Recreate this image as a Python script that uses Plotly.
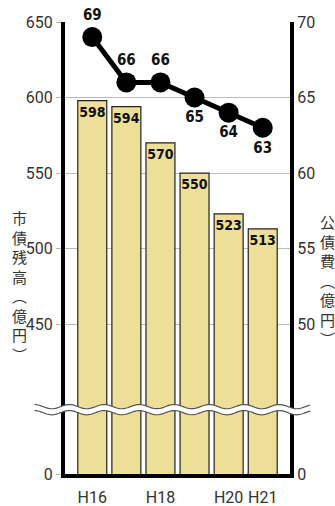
import numpy as np
import plotly.graph_objects as go

# ---- data ----
categories = ["H16", "H17", "H18", "H19", "H20", "H21"]
x_tick_labels = ["H16", "", "H18", "", "H20", "H21"]
debt_balance = [598, 594, 570, 550, 523, 513]      # 市債残高（億円）
bond_cost = [69, 66, 66, 65, 64, 63]                # 公債費（億円）
left_ticks = [0, 450, 500, 550, 600, 650]
right_ticks = [0, 50, 55, 60, 65, 70]
left_title = "市債残高︵億円︶"
right_title = "公債費︵億円︶"

# broken-axis: value shown as "0" sits at the bottom of the axis
LEFT_BOTTOM = 350.8
RIGHT_BOTTOM = 40.08
LEFT_TOP = 650
RIGHT_TOP = 70
BREAK_Y = 393.4

def left_pos(v):
    return LEFT_BOTTOM if v == 0 else v

def right_pos(v):
    return RIGHT_BOTTOM if v == 0 else v

TICK_FONT = "Liberation Sans Narrow, Roboto, Arial Narrow, sans-serif"
LABEL_FONT = "Liberation Sans Narrow, DejaVu Sans Condensed, sans-serif"
CJK_FONT = "Noto Sans CJK JP, Noto Sans CJK SC, sans-serif"

fig = go.Figure()

fig.add_trace(go.Bar(
    x=categories, y=debt_balance,
    marker=dict(color="#EEDF98", line=dict(color="#222222", width=1.2)),
    width=0.85,
    text=[str(v) for v in debt_balance],
    textposition="inside", insidetextanchor="end",
    constraintext="none", textangle=0,
    textfont=dict(family=LABEL_FONT, size=14, color="#111111", weight="bold"),
    cliponaxis=True,
    showlegend=False,
))

fig.add_trace(go.Scatter(
    x=categories, y=bond_cost, yaxis="y2",
    mode="lines+markers+text",
    line=dict(color="#000000", width=5),
    marker=dict(color="#000000", size=20),
    text=[str(v) for v in bond_cost],
    textposition=["top center", "top center", "top center",
                  "bottom center", "bottom center", "bottom center"],
    textfont=dict(family=LABEL_FONT, size=15, color="#111111", weight="bold"),
    cliponaxis=False,
    showlegend=False,
))

# wavy axis-break band
xs = np.linspace(-0.135, 1.09, 160)
period = 35 / 225.0
amp = 1.4
half = 2.0
top = [BREAK_Y + half + amp * np.sin(2 * np.pi * (x + 0.02) / period) for x in xs]
bot = [BREAK_Y - half + amp * np.sin(2 * np.pi * (x + 0.02) / period) for x in xs]
fill_path = "M " + " L ".join(f"{x:.4f},{y:.3f}" for x, y in zip(xs, top))
fill_path += " L " + " L ".join(f"{x:.4f},{y:.3f}" for x, y in zip(xs[::-1], bot[::-1])) + " Z"
top_path = "M " + " L ".join(f"{x:.4f},{y:.3f}" for x, y in zip(xs, top))
bot_path = "M " + " L ".join(f"{x:.4f},{y:.3f}" for x, y in zip(xs, bot))
fig.add_shape(type="path", path=fill_path, xref="paper", yref="y",
              fillcolor="white", line=dict(width=0), layer="above")
fig.add_shape(type="path", path=top_path, xref="paper", yref="y",
              line=dict(color="#555555", width=1.2), layer="above")
fig.add_shape(type="path", path=bot_path, xref="paper", yref="y",
              line=dict(color="#555555", width=1.2), layer="above")

# vertical axis titles
fig.add_annotation(text="<br>".join(left_title), xref="paper", yref="paper",
                   x=-0.204, y=0.415, showarrow=False, xanchor="center", yanchor="middle",
                   font=dict(family=CJK_FONT, size=15, color="#333333"))
fig.add_annotation(text="<br>".join(right_title), xref="paper", yref="paper",
                   x=1.166, y=0.429, showarrow=False, xanchor="center", yanchor="middle",
                   font=dict(family=CJK_FONT, size=15, color="#333333"))

fig.update_layout(
    width=335, height=506,
    margin=dict(l=65, r=45, t=22, b=32, autoexpand=False),
    paper_bgcolor="white", plot_bgcolor="white",
    bargap=0.15,
    xaxis=dict(
        type="category", range=[-0.8, 5.8],
        tickvals=categories, ticktext=x_tick_labels,
        showline=True, linecolor="#000000", linewidth=4,
        ticks="", showgrid=False, ticklabelstandoff=6, automargin=False,
        tickfont=dict(family=TICK_FONT, size=16, color="#333333"),
    ),
    yaxis=dict(
        range=[LEFT_BOTTOM, LEFT_TOP], automargin=False,
        tickvals=[left_pos(v) for v in left_ticks],
        ticktext=[str(v) for v in left_ticks],
        showline=True, linecolor="#000000", linewidth=4,
        showgrid=True, gridcolor="#BBBBBB", gridwidth=1,
        ticks="outside", ticklen=5, tickcolor="#BBBBBB",
        tickfont=dict(family=TICK_FONT, size=16, color="#333333"),
        zeroline=False,
    ),
    yaxis2=dict(
        range=[RIGHT_BOTTOM, RIGHT_TOP], automargin=False,
        overlaying="y", side="right",
        tickvals=[right_pos(v) for v in right_ticks],
        ticktext=[str(v) for v in right_ticks],
        showline=True, linecolor="#000000", linewidth=4,
        showgrid=False, ticks="", zeroline=False,
        tickfont=dict(family=TICK_FONT, size=16, color="#333333"),
    ),
)

fig.write_html("out.html")
